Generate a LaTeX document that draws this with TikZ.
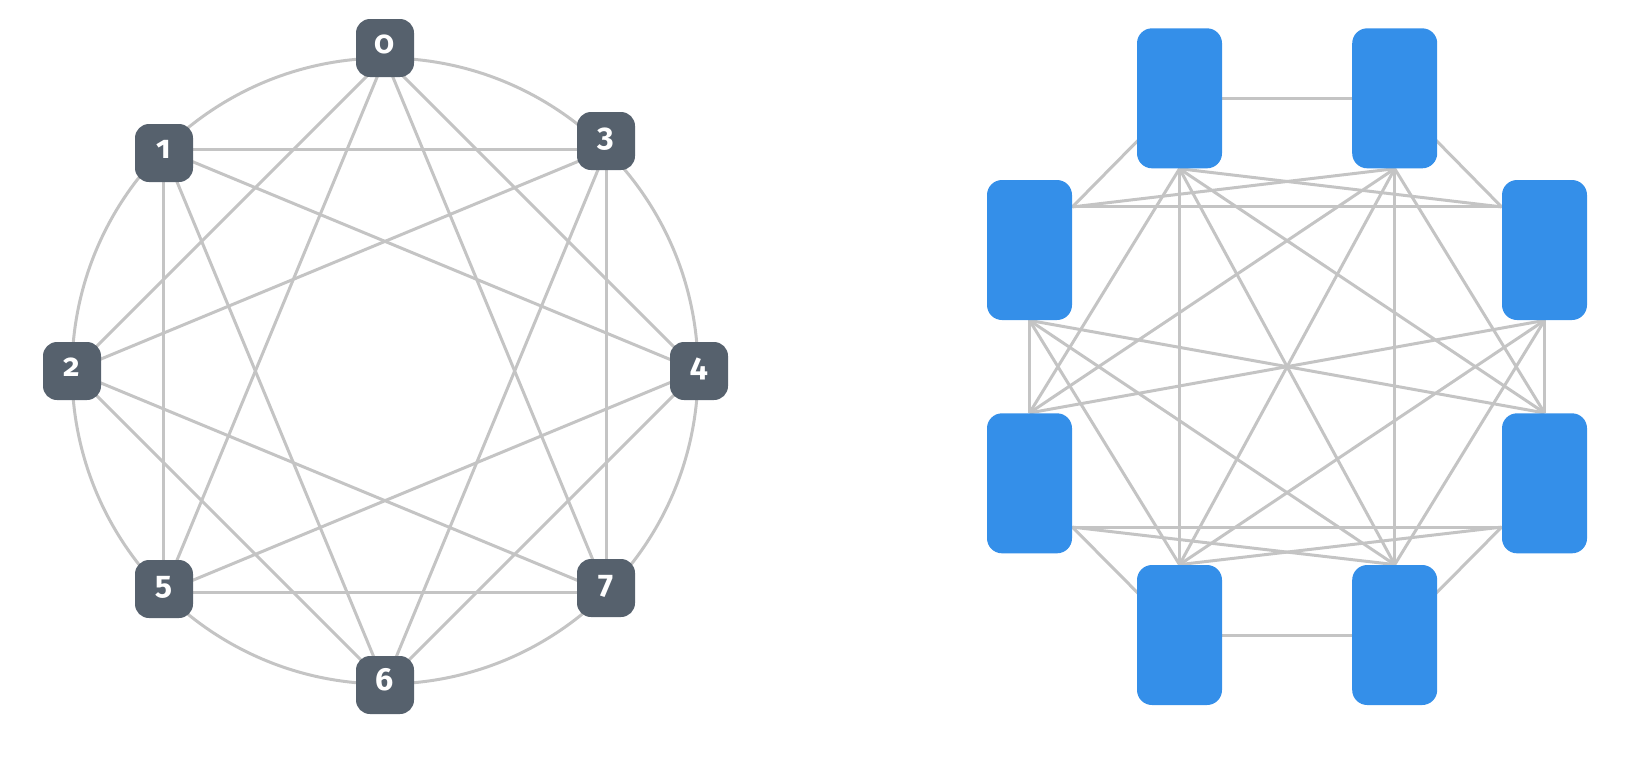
\documentclass[tikz,border=0pt]{standalone}
\usepackage{fontspec}
\newfontfamily\numfont[Numbers=OldStyle]{Fira Sans}
\usetikzlibrary{calc,backgrounds}
\definecolor{edgegrey}{HTML}{C4C4C4}
\definecolor{slate}{HTML}{56616D}
\definecolor{boxblue}{HTML}{348FE9}
\begin{document}
\begin{tikzpicture}[x=0.5pt,y=-0.5pt,
  edge/.style={draw=edgegrey,line width=1.5pt},
  numnode/.style={fill=slate,rounded corners=7pt,minimum width=29pt,minimum height=29pt,
    inner sep=0pt,text=white,font=\numfont\bfseries\fontsize{16}{16}\selectfont,
    text height=0.53em,text depth=0pt},
  gpubox/.style={fill=boxblue,rounded corners=7.5pt,minimum width=42.5pt,minimum height=70pt,inner sep=0pt}]
\useasboundingbox (0,0) rectangle (1637,757);
% ---------- left: ring ----------
\coordinate (c) at (385,371);
\coordinate (p0) at (385,58);
\coordinate (p1) at (606.3,149.7);
\coordinate (p2) at (698,371);
\coordinate (p3) at (606.3,592.3);
\coordinate (p4) at (385,684);
\coordinate (p5) at (163.7,592.3);
\coordinate (p6) at (72,371);
\coordinate (p7) at (163.7,149.7);
\draw[edge] (c) circle[radius=156.5pt];
\foreach \a/\b in {0/2,1/3,2/4,3/5,4/6,5/7,6/0,7/1,0/3,1/4,2/5,3/6,4/7,5/0,6/1,7/2}
  \draw[edge] (p\a) -- (p\b);
\node[numnode] (n0) at (385,48) {0};
\node[numnode] (n3) at (606,141) {3};
\node[numnode] (n4) at (699,371) {4};
\node[numnode] (n7) at (606,588) {7};
\node[numnode] (n6) at (385,685) {6};
\node[numnode] (n5) at (164,589) {5};
\node[numnode] (n2) at (72,371) {2};
\node[numnode] (n1) at (164,153) {1};
% ---------- right: all-to-all ----------
\node[gpubox] (TL) at (1179.5,98.3) {};
\node[gpubox] (TR) at (1394.7,98.3) {};
\node[gpubox] (LU) at (1029.5,250) {};
\node[gpubox] (RU) at (1544.5,250) {};
\node[gpubox] (LL) at (1029.5,483.3) {};
\node[gpubox] (RL) at (1544.5,483.3) {};
\node[gpubox] (BL) at (1179.5,635) {};
\node[gpubox] (BR) at (1394.7,635) {};
\coordinate (LUr) at ($(LU.north east)+(0,27.3)$);
\coordinate (RUl) at ($(RU.north west)+(0,27.3)$);
\coordinate (LLr) at ($(LL.south east)+(0,-26.6)$);
\coordinate (RLl) at ($(RL.south west)+(0,-26.6)$);
\begin{scope}[on background layer]
\draw[edge] (TL.center) -- (TR.center);
\draw[edge] (TL.center) -- (LUr);
\draw[edge] (TR.center) -- (RUl);
\draw[edge] (LUr) -- (RUl);
\draw[edge] (TR.south) -- (LUr);
\draw[edge] (TL.south) -- (RUl);
\foreach \s in {TL,TR,LU,RU}
  \foreach \t in {LL,RL,BL,BR}
    \draw[edge] (\s.south) -- (\t.north);
\draw[edge] (LLr) -- (RLl);
\draw[edge] (LLr) -- (BL.center);
\draw[edge] (RLl) -- (BR.center);
\draw[edge] (LLr) -- (BR.north);
\draw[edge] (RLl) -- (BL.north);
\draw[edge] (BL.center) -- (BR.center);
\end{scope}
\end{tikzpicture}
\end{document}
